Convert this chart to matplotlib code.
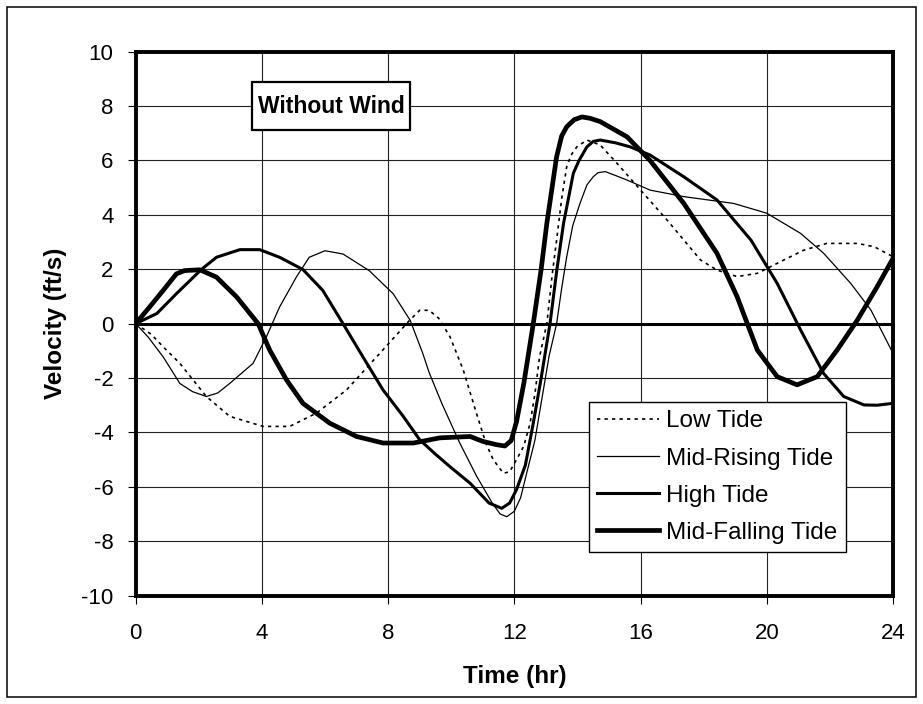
import matplotlib
matplotlib.use('Agg')
import matplotlib.pyplot as plt
from matplotlib.patches import Rectangle

plt.rcParams['font.family'] = ['Liberation Sans', 'DejaVu Sans']
plt.rcParams['axes.unicode_minus'] = False

# Low Tide
low_t = [0, 0.5, 0.87, 1.4, 2.24, 2.98, 4.04, 4.88, 5.73, 6.68, 7.73, 8.68, 9.0, 9.3, 9.6,
         9.96, 10.38, 10.8, 11.1, 11.33, 11.65, 11.85, 12.07, 12.3, 12.5, 12.65, 12.8, 13.03,
         13.2, 13.34, 13.5, 13.66, 13.8, 13.98, 14.3, 14.72, 15.25, 16.0, 16.84, 17.9, 18.42,
         19.06, 19.7, 20.54, 21.17, 21.9, 22.87, 23.4, 24]
low_v = [0, -0.4, -0.85, -1.46, -2.68, -3.41, -3.78, -3.78, -3.29, -2.44, -1.1, 0.12, 0.49,
         0.49, 0.2, -0.48, -1.7, -3.3, -4.4, -5.0, -5.5, -5.45, -5.0, -4.5, -3.66, -2.6, -1.21,
         0, 1.8, 3.08, 4.6, 5.77, 6.2, 6.5, 6.75, 6.57, 5.9, 4.91, 3.81, 2.34, 1.97, 1.73, 1.85,
         2.34, 2.7, 2.95, 2.95, 2.83, 2.46]

# Mid-Rising Tide
rise_t = [0, 0.4, 0.87, 1.4, 1.8, 2.24, 2.6, 2.98, 3.72, 4.14, 4.56, 5.09, 5.5, 6.0, 6.57,
          7.4, 8.16, 8.7, 9.1, 9.3, 9.7, 10.27, 10.8, 11.3, 11.55, 11.76, 12.0, 12.2, 12.39,
          12.65, 12.92, 13.1, 13.34, 13.5, 13.66, 13.85, 14.08, 14.3, 14.5, 14.65, 14.88, 15.2,
          15.57, 16.3, 17.37, 18.95, 20.0, 21.07, 21.8, 22.66, 23.3, 24]
rise_v = [0, -0.5, -1.22, -2.2, -2.5, -2.68, -2.55, -2.2, -1.46, -0.49, 0.61, 1.71, 2.44, 2.68,
          2.56, 1.95, 1.1, 0.12, -1.1, -1.8, -2.93, -4.39, -5.6, -6.6, -7.0, -7.1, -6.9, -6.4,
          -5.5, -4.3, -2.44, -1.2, 0, 1.3, 2.46, 3.6, 4.42, 5.1, 5.4, 5.55, 5.59, 5.45, 5.28,
          4.91, 4.67, 4.42, 4.06, 3.32, 2.59, 1.48, 0.5, -1.09]

# High Tide
high_t = [0, 0.67, 1.29, 2.08, 2.56, 3.3, 3.93, 4.56, 5.3, 5.93, 6.57, 7.2, 7.84, 8.48, 9.0,
          9.5, 9.96, 10.6, 11.2, 11.6, 11.85, 12.07, 12.35, 12.6, 12.85, 13.13, 13.35, 13.56,
          13.87, 14.05, 14.3, 14.5, 14.72, 15.2, 15.67, 16.3, 17.37, 18.42, 19.5, 20.33, 21.07,
          21.8, 22.44, 23.08, 23.5, 24]
high_v = [0, 0.37, 1.1, 1.99, 2.44, 2.72, 2.72, 2.44, 1.99, 1.22, 0, -1.22, -2.44, -3.41,
          -4.27, -4.8, -5.26, -5.87, -6.6, -6.79, -6.6, -6.1, -5.2, -3.66, -2.0, 0, 2.0, 3.69,
          5.53, 6.0, 6.5, 6.7, 6.75, 6.65, 6.5, 6.2, 5.4, 4.55, 3.07, 1.48, -0.23, -1.83, -2.68,
          -2.99, -3.0, -2.93]

# Mid-Falling Tide
fall_t = [0, 0.44, 0.87, 1.29, 1.55, 2.03, 2.56, 3.2, 3.88, 4.25, 4.78, 5.3, 6.15, 7.0, 7.84,
          8.8, 9.64, 10.6, 11.0, 11.43, 11.7, 11.9, 12.07, 12.3, 12.6, 12.85, 13.03, 13.34, 13.5,
          13.66, 13.9, 14.14, 14.4, 14.72, 15.57, 16.3, 17.37, 18.42, 19.06, 19.7, 20.33, 20.96,
          21.6, 22.23, 22.87, 23.5, 24]
fall_v = [0, 0.61, 1.22, 1.83, 1.95, 1.98, 1.71, 0.98, 0, -0.98, -2.07, -2.93, -3.66, -4.15,
          -4.39, -4.39, -4.2, -4.15, -4.33, -4.45, -4.5, -4.3, -3.6, -2.2, 0, 2.0, 3.69, 6.14,
          6.9, 7.24, 7.5, 7.6, 7.55, 7.43, 6.87, 6.0, 4.42, 2.59, 0.99, -0.97, -1.95, -2.25,
          -1.95, -0.97, 0.13, 1.36, 2.4]

x_ticks = [0, 4, 8, 12, 16, 20, 24]
y_ticks = [-10, -8, -6, -4, -2, 0, 2, 4, 6, 8, 10]

fig = plt.figure(figsize=(9.23, 7.04), dpi=100)
ax = fig.add_axes([0.147, 0.154, 0.8205, 0.7726])

# outer frame of the chart
fig.patches.append(Rectangle((7 / 923, 7 / 704), 909 / 923, 690 / 704, transform=fig.transFigure,
                             fill=False, edgecolor='black', linewidth=1.1))

ax.grid(True, color='#222222', linewidth=0.8)
ax.set_axisbelow(True)
ax.axhline(0, color='black', linewidth=2.2, zorder=1.5)

ax.plot(low_t, low_v, color='black', linewidth=1.2, linestyle=(0, (2, 2.5)), label='Low Tide')
ax.plot(rise_t, rise_v, color='black', linewidth=0.9, label='Mid-Rising Tide')
ax.plot(high_t, high_v, color='black', linewidth=2.2, label='High Tide')
ax.plot(fall_t, fall_v, color='black', linewidth=3.4, label='Mid-Falling Tide')

ax.set_xlim(0, 24)
ax.set_ylim(-10, 10)
ax.set_xticks(x_ticks)
ax.set_yticks(y_ticks)
ax.tick_params(direction='out', length=6, width=0.8, labelsize=16, pad=10)
ax.tick_params(axis='x', pad=14)
for s in ax.spines.values():
    s.set_linewidth(2.8)

ax.set_xlabel('Time (hr)', fontsize=17.5, fontweight='bold', labelpad=15)
ax.set_ylabel('Velocity (ft/s)', fontsize=17.5, fontweight='bold', labelpad=10)

ax.add_patch(Rectangle((0.153, 0.856), 0.209, 0.088, transform=ax.transAxes,
                       facecolor='white', edgecolor='black', linewidth=1.6, zorder=5))
ax.text(0.258, 0.900, 'Without Wind', transform=ax.transAxes, ha='center', va='center',
        fontsize=16.5, fontweight='bold', zorder=6)

leg = ax.legend(loc='upper left', bbox_to_anchor=(0.598, 0.356), borderaxespad=0,
                fontsize=17.5, fancybox=False, framealpha=1, edgecolor='black',
                handlelength=2.55, handletextpad=0.3, labelspacing=0.62, borderpad=0.35)
leg.get_frame().set_linewidth(1.0)

fig.savefig('out.png', dpi=100)
